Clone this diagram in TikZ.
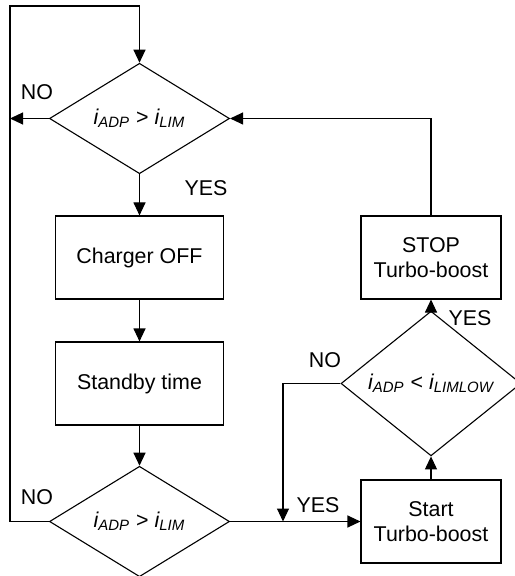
\documentclass[tikz,border=0pt]{standalone}
\usepackage{fontspec}
\setmainfont{Liberation Sans}
\usepackage{tikz}
\usetikzlibrary{shapes.geometric,arrows.meta}

\newcommand{\isub}[1]{{\itshape i}\textsubscript{\itshape #1}}

\tikzset{
    box/.style={draw, line width=0.55pt, minimum width=84pt, minimum height=41.5pt, inner sep=0pt, align=center},
    tbox/.style={box, minimum width=70pt},
    test/.style={draw, diamond, line width=0.55pt, minimum width=90pt, minimum height=53.5pt, inner sep=0pt},
    flow/.style={line width=0.55pt, -{Triangle[length=6.5pt,width=6pt]}}
}

\begin{document}
\begin{tikzpicture}[x=0.5pt, y=-0.5pt, font=\fontsize{10.7}{12.6}\selectfont]
        \useasboundingbox (0,0) rectangle (514,576);

        % left column
        \node[test] (chk1) at (139.5,118.5) {\isub{ADP} > \isub{LIM}};
        \node[box] (off) at (139.5,257.5) {Charger OFF};
        \node[box] (wait) at (139.5,383.5) {Standby time};
        \node[test] (chk2) at (139.5,521.5) {\isub{ADP} > \isub{LIM}};

        % right column
        \node[tbox] (start) at (431,521.5) {Start\\Turbo-boost};
        \node[test] (chk3) at (431,383.5) {\isub{ADP} < \isub{LIMLOW}};
        \node[tbox] (stop) at (431,257.5) {STOP\\Turbo-boost};

        \coordinate (back) at (10,118.5);
        \coordinate (join) at (283,521.5);

        \draw[flow] (chk1.south) -- (off.north);
        \draw[flow] (off.south) -- (wait.north);
        \draw[flow] (wait.south) -- (chk2.north);
        \draw[flow] (chk1.west) -- (back);
        \draw[flow] (chk2.west) -- (10,521.5) -- (10,6) -- (139.5,6) -- (chk1.north);
        \draw[flow] (chk2.east) -- (start.west);
        \draw[flow] (start.north) -- (chk3.south);
        \draw[flow] (chk3.north) -- (stop.south);
        \draw[flow] (stop.north) |- (chk1.east);
        \draw[flow] (chk3.west) -| (join);

        \node at (37,92) {NO};
        \node at (206,188) {YES};
        \node at (37,497) {NO};
        \node at (318,505) {YES};
        \node at (325,360) {NO};
        \node at (470,318) {YES};
    \end{tikzpicture}
\end{document}
